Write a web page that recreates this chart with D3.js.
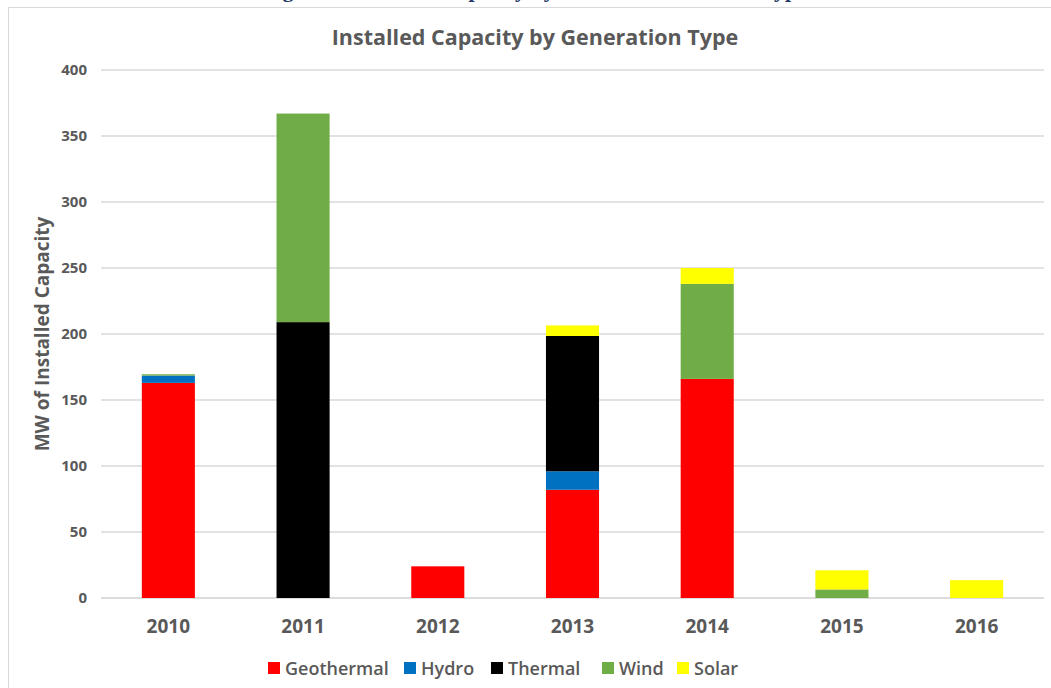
<!DOCTYPE html>
<html>
<head>
<meta charset="utf-8">
<script src="https://cdn.jsdelivr.net/npm/d3@7"></script>
<style>
  body { margin: 0; background: #fff; }
  svg { display: block; font-family: "Open Sans", "Liberation Sans", sans-serif; }
</style>
</head>
<body>
<svg id="chart" width="1051" height="688"></svg>
<script>
// data (MW)
const years = ["2010", "2011", "2012", "2013", "2014", "2015", "2016"];
const types = ["Geothermal", "Hydro", "Thermal", "Wind", "Solar"];
const geothermal = [163, 0, 24, 82, 166, 0, 0];
const hydro = [5.5, 0, 0, 14, 0, 0, 0];
const thermal = [0, 209, 0, 102.5, 0, 0, 0];
const wind = [1, 158, 0, 0, 72, 6.5, 0];
const solar = [0, 0, 0, 8, 12, 14.5, 13.5];
const yTicks = [0, 50, 100, 150, 200, 250, 300, 350, 400];
const colors = ["#ff0000", "#0070c0", "#000000", "#70ad47", "#ffff00"];

const rows = years.map((y, i) => ({
  year: y,
  Geothermal: geothermal[i], Hydro: hydro[i], Thermal: thermal[i], Wind: wind[i], Solar: solar[i]
}));

const margin = {top: 70, right: 7, bottom: 90, left: 101};
const W = 1051, H = 688;
const width = W - margin.left - margin.right;
const height = H - margin.top - margin.bottom;

const svg = d3.select("#chart");

// frame of the embedded chart
svg.append("rect")
  .attr("x", 8.5).attr("y", 7.5)
  .attr("width", 1060).attr("height", 700)
  .attr("fill", "none").attr("stroke", "#d9d9d9");

// caption above the frame, cut off by the top edge like in the picture
svg.append("text")
  .attr("x", 535).attr("y", -3.5)
  .attr("text-anchor", "middle")
  .style("font-family", "'Liberation Serif', serif")
  .style("font-weight", "bold")
  .style("font-size", "22px")
  .attr("fill", "#1f3864")
  .text("Figure 3: Installed Capacity by Year and Generation Type");

const g = svg.append("g").attr("transform", `translate(${margin.left},${margin.top})`);

const x = d3.scaleBand().domain(years).range([0, width]).paddingInner(0.606).paddingOuter(0.303);
const y = d3.scaleLinear().domain([0, 400]).range([height, 0]);

// gridlines
g.append("g")
  .selectAll("line")
  .data(yTicks)
  .join("line")
  .attr("x1", 0).attr("x2", width)
  .attr("y1", d => y(d)).attr("y2", d => y(d))
  .attr("stroke", d => d === 0 ? "#d0d0d0" : "#d9d9d9")
  .attr("stroke-width", 1.3);

// y axis labels
const yAxis = d3.axisLeft(y).tickValues(yTicks).tickSize(0).tickPadding(14);
g.append("g").call(yAxis)
  .call(s => s.select(".domain").remove())
  .selectAll("text")
  .attr("fill", "#595959")
  .style("font-size", "15px")
  .style("font-weight", "bold")
  .style("font-family", "'Open Sans', sans-serif");

// x axis labels
const xAxis = d3.axisBottom(x).tickSize(0).tickPadding(22);
g.append("g").attr("transform", `translate(0,${height})`).call(xAxis)
  .call(s => s.select(".domain").remove())
  .selectAll("text")
  .attr("fill", "#595959")
  .style("font-size", "19px")
  .style("font-weight", "bold")
  .style("font-family", "'Open Sans', sans-serif");

// stacked bars
const series = d3.stack().keys(types)(rows);
g.append("g")
  .selectAll("g")
  .data(series)
  .join("g")
  .attr("fill", (d, i) => colors[i])
  .selectAll("rect")
  .data(d => d.filter(v => v[1] - v[0] > 0))
  .join("rect")
  .attr("x", d => x(d.data.year))
  .attr("width", x.bandwidth())
  .attr("y", d => y(d[1]))
  .attr("height", d => y(d[0]) - y(d[1]));

// title
svg.append("text")
  .attr("x", 535).attr("y", 45)
  .attr("text-anchor", "middle")
  .attr("fill", "#595959")
  .style("font-size", "21.5px")
  .style("font-weight", "bold")
  .text("Installed Capacity by Generation Type");

// y axis title
svg.append("text")
  .attr("transform", `translate(49,${margin.top + height / 2}) rotate(-90)`)
  .attr("text-anchor", "middle")
  .attr("fill", "#595959")
  .style("font-size", "19px")
  .style("font-weight", "bold")
  .text("MW of Installed Capacity");

// legend
const legendX = [268, 404, 491, 602, 677];
const legend = svg.append("g").attr("transform", "translate(0,675)");
types.forEach((t, i) => {
  const item = legend.append("g").attr("transform", `translate(${legendX[i]},0)`);
  item.append("rect").attr("x", 0).attr("y", -13).attr("width", 12).attr("height", 12).attr("fill", colors[i]);
  item.append("text").attr("x", 17).attr("y", 0)
    .attr("fill", "#595959")
    .style("font-size", "18px")
    .style("font-weight", "600")
    .text(t);
});
</script>
</body>
</html>
